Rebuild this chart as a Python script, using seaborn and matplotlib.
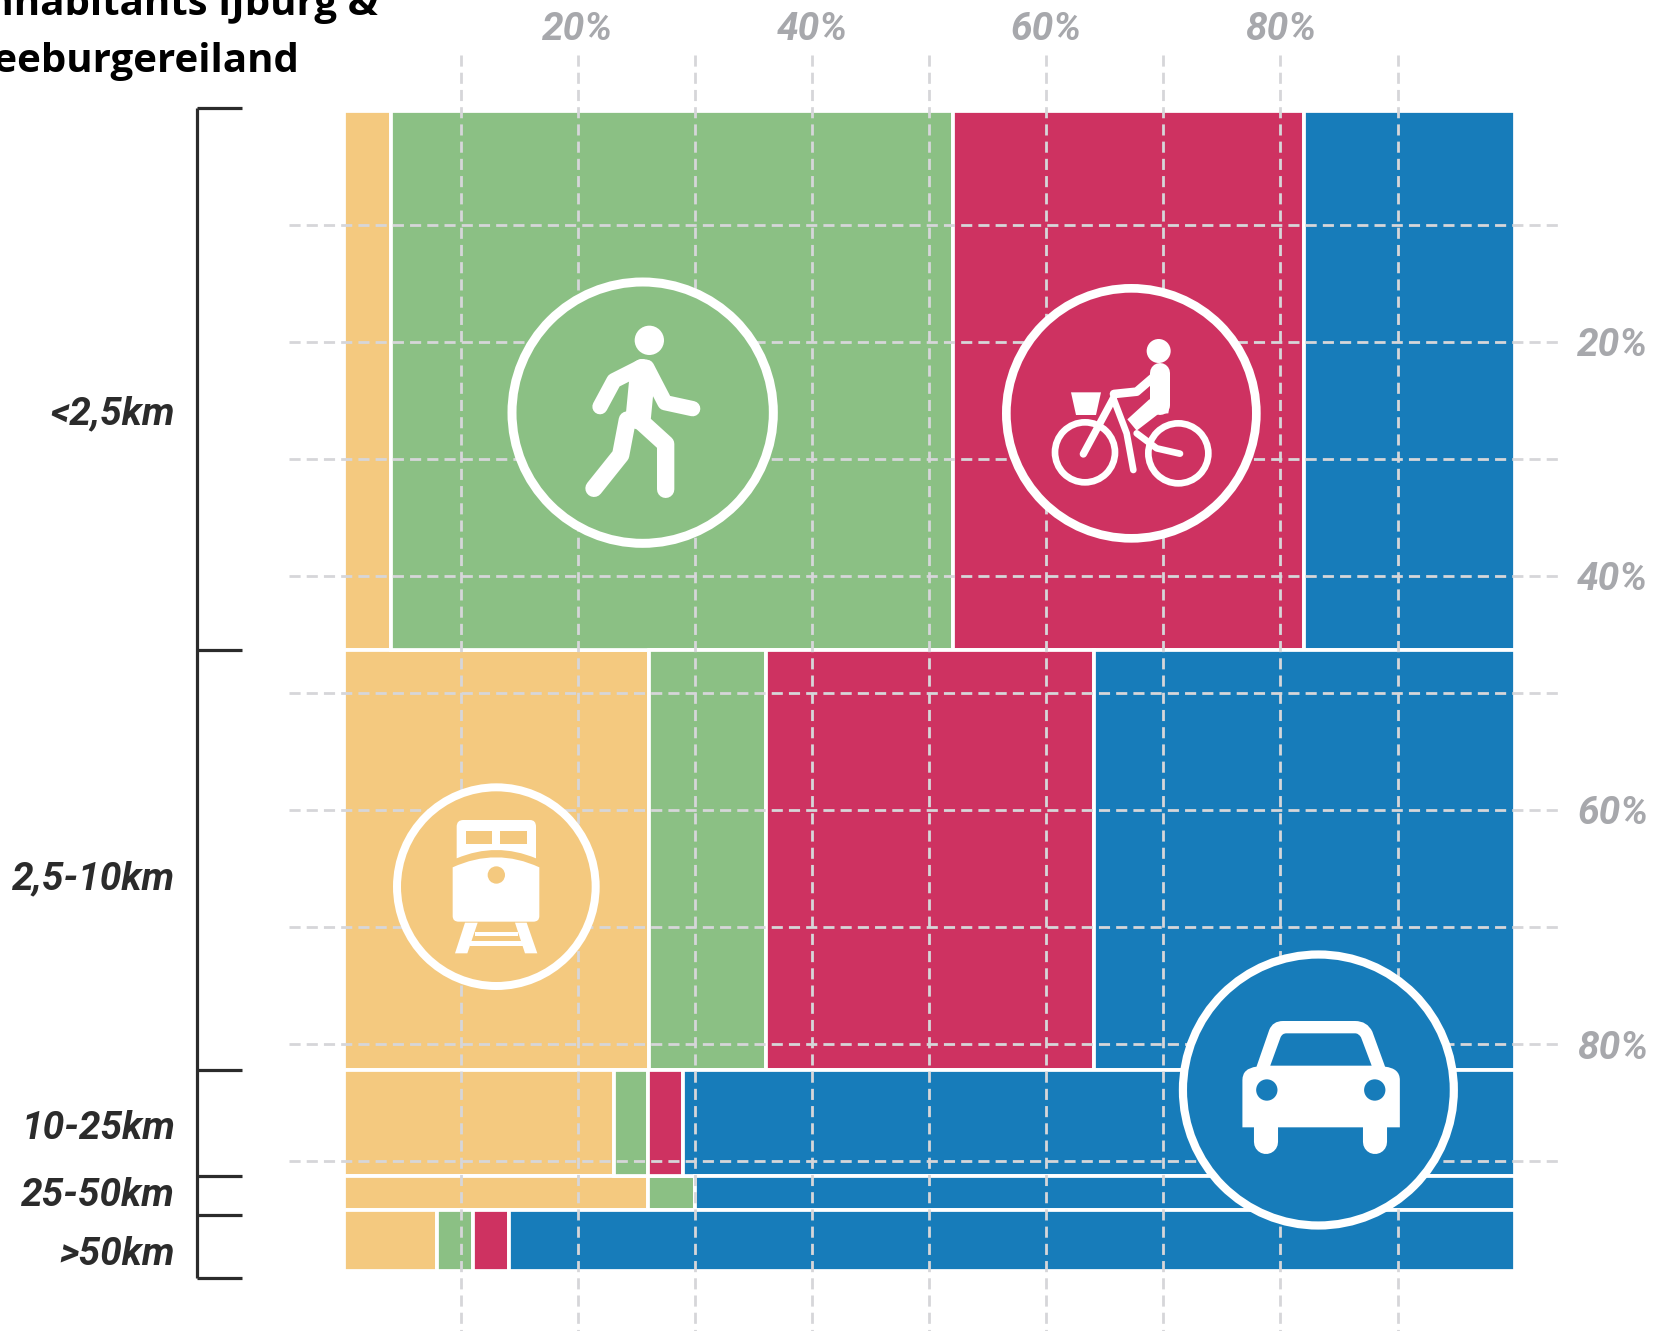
#!/usr/bin/env python3
"""Travel mode share by trip distance, inhabitants IJburg & Zeeburgereiland."""

from __future__ import annotations

import matplotlib

matplotlib.use("Agg")

import matplotlib.pyplot as plt
import pandas as pd
import seaborn as sns
from matplotlib.patches import Circle, Ellipse, PathPatch, Polygon, Rectangle
from matplotlib.path import Path
from matplotlib.transforms import Affine2D


WIDTH, HEIGHT = 1669, 1331

ROW_LABELS = ["<2,5km", "2,5-10km", "10-25km", "25-50km", ">50km"]
ROW_EDGES = [0.3, 46.3, 82.2, 91.3, 94.2, 99.4]
ROW_LABEL_Y = [26.2, 65.9, 87.2, 92.9, 98.0]
BRACKET_Y = [0, 46.3, 82.2, 91.3, 94.6, 100]

TRAIN = [4.05, 26.05, 23.05, 26.0, 8.0]
WALK = [47.95, 10.0, 2.95, 4.0, 3.0]
BIKE = [30.0, 28.0, 3.0, 0.0, 3.1]
CAR = [18.0, 35.95, 71.0, 70.0, 85.9]

GRID_VALUES = [10, 20, 30, 40, 50, 60, 70, 80, 90]
TICK_VALUES = [20, 40, 60, 80]
TICK_LABELS = ["20%", "40%", "60%", "80%"]

COLORS = {"train": "#F4C97F", "walk": "#8BC084", "bike": "#CE3261", "car": "#177CBA"}
GRID_COLOR = "#D6D6D9"
LABEL_FONT = "Roboto"


def curve(*segments):
    verts, codes = [], []
    for seg in segments:
        if len(seg) == 2 and not verts:
            verts.append(seg)
            codes.append(Path.MOVETO)
        elif len(seg) == 2:
            verts.append(seg)
            codes.append(Path.LINETO)
        else:
            verts += [seg[:2], seg[2:]]
            codes += [Path.CURVE3, Path.CURVE3]
    verts.append(verts[0])
    codes.append(Path.CLOSEPOLY)
    return Path(verts, codes)


class Icon:

    def __init__(self, ax, x0, y0, sx, sy, color):
        self.ax = ax
        self.sx = sx
        self.color = color
        self.tr = Affine2D().scale(sx, sy).translate(x0, y0).scale(1, -1).translate(0, HEIGHT)

    def add(self, patch, z=4):
        patch.set_transform(self.tr)
        patch.set_clip_on(False)
        patch.set_zorder(z)
        self.ax.add_patch(patch)

    def ring(self, x, y, r, w):
        self.add(Circle((x, y), r, fc=self.color, ec="white", lw=w * self.sx * 0.72), z=3)

    def dot(self, x, y, r, color="white"):
        self.add(Circle((x, y), r, fc=color, ec="none"))

    def poly(self, pts, color="white"):
        self.add(Polygon(pts, closed=True, fc=color, ec="none"))

    def path(self, path, color="white"):
        self.add(PathPatch(path, fc=color, ec="none"))

    def stroke(self, pts, w):
        xs, ys = zip(*pts)
        self.ax.plot(xs, ys, color="white", lw=w * self.sx * 0.72, solid_capstyle="round",
                     solid_joinstyle="round", transform=self.tr, clip_on=False, zorder=4)


def draw_walk(ax):
    ic = Icon(ax, 490, 260, 1 / 3, 1 / 3, COLORS["walk"])
    ic.ring(458, 458, 392, 27)
    ic.dot(478, 241, 44)
    ic.stroke([(330, 440), (372, 362), (455, 320)], 46)
    ic.stroke([(470, 322), (525, 428), (608, 446)], 46)
    ic.stroke([(458, 335), (445, 470)], 76)
    ic.stroke([(412, 480), (392, 585), (312, 685)], 52)
    ic.stroke([(450, 482), (527, 552), (527, 688)], 52)


def draw_bike(ax):
    ic = Icon(ax, 990, 270, 1 / 3, 1 / 3, COLORS["bike"])
    ic.ring(424, 430, 375, 26)
    ic.dot(506, 243, 36)
    ic.stroke([(510, 310), (510, 405)], 60)
    ic.poly([(478, 388), (540, 400), (535, 430), (505, 432), (440, 482), (412, 448)])
    ic.stroke([(372, 372), (440, 365), (490, 322)], 26)
    ic.poly([(243, 367), (333, 367), (318, 435), (258, 435)])
    for cx, cy in [(285, 547), (565, 550)]:
        ic.add(Circle((cx, cy), 90, fc="none", ec="white", lw=20 * ic.sx * 0.72))
    ic.stroke([(280, 552), (370, 385)], 22)
    ic.stroke([(370, 385), (410, 490), (430, 600)], 20)
    ic.stroke([(440, 490), (500, 535), (570, 551)], 20)


def draw_train(ax):
    ic = Icon(ax, 380, 770, 1 / 3, 1 / 3, COLORS["train"])
    ic.ring(349, 350, 298, 24)
    ic.path(curve((230, 170), (230, 150, 250, 150), (450, 150), (468, 150, 468, 170),
                  (468, 265), (349, 215, 230, 265)))
    ic.poly([(258, 183), (337, 183), (337, 223), (258, 223)], COLORS["train"])
    ic.poly([(360, 183), (440, 183), (440, 223), (360, 223)], COLORS["train"])
    ic.path(curve((218, 292), (349, 232, 478, 292), (478, 438), (478, 455, 460, 455),
                  (236, 455), (218, 455, 218, 438)))
    ic.dot(349, 315, 26, COLORS["train"])
    ic.poly([(255, 458), (293, 458), (262, 550), (225, 550)])
    ic.poly([(405, 458), (440, 458), (472, 550), (435, 550)])
    ic.add(Rectangle((285, 486), 130, 13, fc="white", ec="none"))
    ic.add(Rectangle((270, 514), 160, 13, fc="white", ec="none"))


def draw_car(ax):
    # this crop came out slightly wider than tall, hence the two scales
    ic = Icon(ax, 1130, 920, 1 / 2.909, 1 / 3, COLORS["car"])
    ic.add(Ellipse((548, 510), 788, 813, fc=COLORS["car"], ec="white", lw=5.9), z=3)
    ic.path(curve((368, 440), (405, 330), (415, 303, 445, 303), (655, 303), (690, 303, 705, 335),
                  (742, 440), (785, 445, 785, 480), (785, 622), (327, 622), (327, 480), (327, 445, 368, 440)))
    ic.path(curve((408, 437), (438, 352), (443, 340, 455, 340), (655, 340), (665, 340, 672, 352), (703, 437)),
            COLORS["car"])
    ic.add(Ellipse((398, 510), 62, 64, fc=COLORS["car"], ec="none"))
    ic.add(Ellipse((712, 510), 62, 64, fc=COLORS["car"], ec="none"))
    ic.stroke([(397, 610), (397, 665)], 70)
    ic.stroke([(713, 610), (713, 665)], 70)


def main():
    sns.set_theme(style="white")
    plt.rcParams["font.family"] = LABEL_FONT

    row_mid = [(a + b) / 2 for a, b in zip(ROW_EDGES[:-1], ROW_EDGES[1:])]
    data = pd.DataFrame({"row": row_mid, "train": TRAIN, "walk": WALK, "bike": BIKE, "car": CAR})
    data = data.melt(id_vars="row", var_name="mode", value_name="share")

    fig = plt.figure(figsize=(WIDTH / 100, HEIGHT / 100), dpi=100)
    ax = fig.add_axes([343.8 / WIDTH, (HEIGHT - 1278.3) / HEIGHT, 1170.8 / WIDTH, 1170.8 / HEIGHT])

    # seaborn piles the last hue first, so the order is reversed here
    sns.histplot(
        data=data,
        y="row",
        weights="share",
        hue="mode",
        hue_order=["car", "bike", "walk", "train"],
        multiple="stack",
        bins=ROW_EDGES,
        palette=COLORS,
        alpha=1,
        edgecolor="white",
        linewidth=2.7,
        legend=False,
        ax=ax,
    )
    ax.set_xlim(0, 100)
    ax.set_ylim(100, 0)
    ax.set_xlabel("")
    ax.set_ylabel("")
    sns.despine(ax=ax, left=True, bottom=True, top=True, right=True)

    dash = dict(color=GRID_COLOR, lw=2.0, linestyles=[(0, (4, 2.2))], clip_on=False, zorder=2)
    ax.vlines(GRID_VALUES, -4.5, 104.5, **dash)
    ax.hlines(GRID_VALUES, -4.7, 104.1, **dash)

    ax.set_xticks(TICK_VALUES, TICK_LABELS)
    ax.set_yticks(TICK_VALUES, TICK_LABELS)
    ax.tick_params(axis="x", length=0, pad=43, labeltop=True, labelbottom=False)
    ax.tick_params(axis="y", length=0, pad=45, labelright=True, labelleft=False)
    for label in ax.get_xticklabels() + ax.get_yticklabels():
        label.set(fontsize=28, fontweight="bold", fontstyle="italic", color="#A7A8AC")

    bracket = dict(color="#2B2B2B", lw=2.3, clip_on=False, zorder=3)
    ax.vlines(-12.55, BRACKET_Y[0], BRACKET_Y[-1], **bracket)
    ax.hlines(BRACKET_Y, -12.55, -8.7, **bracket)

    for label, y in zip(ROW_LABELS, ROW_LABEL_Y):
        ax.text(-14.4, y, label, ha="right", va="center", fontsize=28, fontweight="bold",
                fontstyle="italic", color="#2B2B2B", clip_on=False)

    fig.text(378 / WIDTH, 1 - 15 / HEIGHT, "Inhabitants IJburg &", ha="right", va="baseline",
             fontsize=29, fontweight="bold", family="Open Sans", color="black")
    fig.text(299 / WIDTH, 1 - 72 / HEIGHT, "Zeeburgereiland", ha="right", va="baseline",
             fontsize=29, fontweight="bold", family="Open Sans", color="black")

    draw_walk(ax)
    draw_bike(ax)
    draw_train(ax)
    draw_car(ax)

    fig.savefig("out.png", dpi=100)


if __name__ == "__main__":
    main()
